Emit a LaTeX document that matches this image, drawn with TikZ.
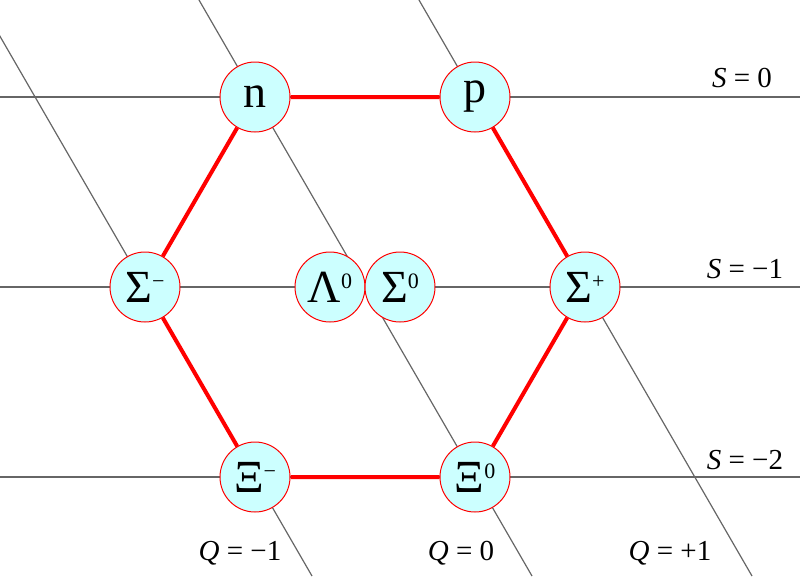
\documentclass[tikz,border=0pt]{standalone}
\usepackage{fontspec}
\setmainfont{Liberation Serif}
\newcommand{\supx}[1]{\raisebox{14pt}{\fontsize{22}{22}\selectfont #1}}
\begin{document}
\begin{tikzpicture}[x=1pt,y=-1pt,
  grid/.style={draw=black!60,line width=1.2pt},
  hexl/.style={draw=red,line width=4pt},
  part/.style={circle,draw=red,line width=1pt,fill={rgb,255:red,204;green,255;blue,255},minimum size=70pt,inner sep=0pt,font=\fontsize{46}{46}\selectfont},
  lab/.style={font=\fontsize{29}{29}\selectfont}]
\useasboundingbox (0,0) rectangle (800,576);
\begin{scope}
\clip (0,0) rectangle (800,576);
\draw[grid] (0,97) -- (800,97);
\draw[grid] (0,287) -- (800,287);
\draw[grid] (0,477) -- (800,477);
\draw[grid] (-21,0) -- (312,576);
\draw[grid] (199,0) -- (532,576);
\draw[grid] (419,0) -- (752,576);
\end{scope}
\node[part] (n) at (255,97) {n};
\node[part] (p) at (475,97) {p};
\node[part] (sm) at (145,287) {Σ\supx{−}};
\node[part] (sp) at (585,287) {Σ\supx{+}};
\node[part] (xm) at (255,477) {Ξ\supx{−}};
\node[part] (x0) at (475,477) {Ξ\supx{0}};
\draw[hexl] (n) -- (p) -- (sp) -- (x0) -- (xm) -- (sm) -- (n);
\node[part] (l0) at (330,287) {Λ\supx{0}};
\node[part] (s0) at (400,287) {Σ\supx{0}};
\node[lab] (S0) at (742,78) {\textit{S} = 0};
\node[lab] (S1) at (745,269) {\textit{S} = −1};
\node[lab] (S2) at (745,460) {\textit{S} = −2};
\node[lab] (Q1) at (240,553) {\textit{Q} = −1};
\node[lab] (Q0) at (461,553) {\textit{Q} = 0};
\node[lab] (Q2) at (670,553) {\textit{Q} = +1};
\end{tikzpicture}
\end{document}
